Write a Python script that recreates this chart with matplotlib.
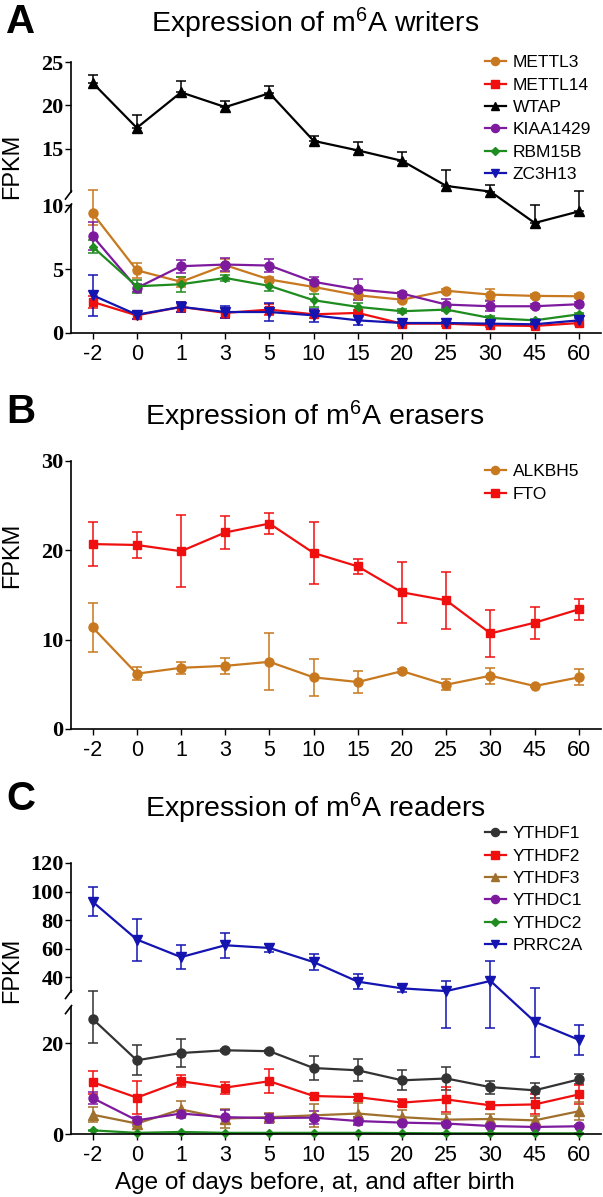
import matplotlib
matplotlib.use('Agg')
import matplotlib.pyplot as plt
import numpy as np

plt.rcParams['font.family'] = ['Liberation Sans', 'DejaVu Sans']
plt.rcParams['mathtext.fontset'] = 'custom'
plt.rcParams['mathtext.rm'] = 'Liberation Sans'
plt.rcParams['mathtext.it'] = 'Liberation Sans:italic'
plt.rcParams['mathtext.bf'] = 'Liberation Sans:bold'

days = ['-2', '0', '1', '3', '5', '10', '15', '20', '25', '30', '45', '60']

# panel A: writers (mean, sd)
mettl3 = [9.35, 4.9, 4.0, 5.3, 4.18, 3.6, 2.95, 2.6, 3.3, 3.0, 2.9, 2.87]
mettl3_sd = [0.9, 0.6, 0.4, 0.5, 0.2, 0.2, 0.3, 0.15, 0.15, 0.4, 0.15, 0.15]
mettl14 = [2.43, 1.38, 2.04, 1.57, 1.83, 1.46, 1.57, 0.73, 0.73, 0.6, 0.55, 0.78]
mettl14_sd = [0.5, 0.3, 0.4, 0.4, 0.4, 0.3, 0.2, 0.15, 0.15, 0.15, 0.1, 0.15]
wtap = [22.6, 17.4, 21.5, 19.8, 21.4, 15.9, 14.8, 13.6, 10.7, 10.05, 8.6, 9.5]
wtap_sd = [0.85, 1.5, 1.35, 0.65, 0.85, 0.55, 1.0, 1.0, 1.8, 0.75, 1.4, 0.65]
kiaa1429 = [7.57, 3.52, 5.22, 5.35, 5.27, 4.0, 3.4, 3.08, 2.22, 2.09, 2.09, 2.25]
kiaa1429_sd = [1.1, 0.3, 0.5, 0.5, 0.5, 0.4, 0.8, 0.15, 0.4, 0.4, 0.15, 0.15]
rbm15b = [6.74, 3.65, 3.81, 4.3, 3.68, 2.56, 2.04, 1.7, 1.83, 1.17, 0.99, 1.46]
rbm15b_sd = [0.5, 0.5, 0.6, 0.2, 0.4, 0.5, 0.3, 0.15, 0.15, 0.15, 0.1, 0.1]
zc3h13 = [2.95, 1.43, 2.04, 1.64, 1.64, 1.38, 0.99, 0.78, 0.78, 0.73, 0.68, 0.99]
zc3h13_sd = [1.6, 0.3, 0.4, 0.5, 0.7, 0.5, 0.4, 0.1, 0.1, 0.1, 0.1, 0.15]

# panel B: erasers
alkbh5 = [11.37, 6.19, 6.85, 7.07, 7.52, 5.78, 5.26, 6.48, 4.96, 5.96, 4.81, 5.78]
alkbh5_sd = [2.7, 0.7, 0.7, 0.9, 3.2, 2.1, 1.2, 0.2, 0.6, 0.9, 0.15, 0.9]
fto = [20.7, 20.6, 19.9, 22.0, 23.0, 19.7, 18.2, 15.3, 14.4, 10.7, 11.9, 13.4]
fto_sd = [2.5, 1.5, 4.0, 1.8, 1.2, 3.5, 0.8, 3.4, 3.2, 2.6, 1.8, 1.2]

# panel C: readers
ythdf1 = [25.3, 16.2, 17.8, 18.4, 18.2, 14.5, 14.0, 11.8, 12.2, 10.3, 9.6, 12.0]
ythdf1_sd = [5.2, 3.3, 3.1, 0.3, 0.3, 2.6, 2.45, 2.2, 2.6, 1.4, 1.6, 1.1]
ythdf2 = [11.4, 8.0, 11.6, 10.2, 11.6, 8.35, 8.1, 6.9, 7.6, 6.3, 6.5, 8.7]
ythdf2_sd = [2.5, 3.7, 1.35, 1.3, 2.6, 0.5, 0.6, 0.8, 2.7, 0.8, 2.2, 2.0]
ythdf3 = [4.25, 2.3, 5.4, 3.4, 3.7, 4.1, 4.5, 3.7, 3.15, 3.3, 3.0, 5.0]
ythdf3_sd = [1.6, 0.5, 1.8, 2.0, 1.0, 2.5, 2.4, 1.5, 1.2, 1.2, 1.0, 2.0]
ythdc1 = [7.9, 3.0, 4.5, 3.7, 3.5, 3.6, 2.85, 2.5, 2.3, 1.75, 1.55, 1.7]
ythdc1_sd = [1.4, 0.8, 0.7, 1.5, 1.0, 1.5, 0.9, 0.3, 0.3, 0.3, 0.2, 0.2]
ythdc2 = [0.8, 0.25, 0.45, 0.25, 0.25, 0.25, 0.25, 0.2, 0.15, 0.15, 0.15, 0.15]
ythdc2_sd = [0.1, 0.05, 0.05, 0.05, 0.05, 0.05, 0.05, 0.05, 0.05, 0.05, 0.05, 0.05]
prrc2a = [92.9, 66.4, 54.1, 62.4, 60.5, 50.6, 36.9, 32.2, 30.3, 37.4, 24.7, 20.7]
prrc2a_sd = [10.3, 14.7, 8.2, 8.7, 2.7, 5.4, 5.3, 2.7, 7.0, 14.0, 7.7, 3.3]

ORANGE = '#C8781E'
RED = '#F00F0F'
PURPLE = '#7D1A9E'
GREEN = '#1E8C1E'
BLUE = '#1414B0'

W, H = 603, 1197
x = np.arange(len(days))


def broken(t, a, y0, v0, b):
    # piecewise y scale with a gap: values <= t on the lower segment
    def fwd(v):
        v = np.asarray(v, float)
        return np.where(v <= t, v * a, y0 + (v - v0) * b)

    def inv(y):
        y = np.asarray(y, float)
        yt = y0 + (t - v0) * b
        return np.where(y <= t * a, y / a, np.where(y < yt, t, v0 + (y - y0) / b))
    return fwd, inv


def add_axes(top, bottom):
    return fig.add_axes([70.5 / W, 1 - bottom / H, 530.5 / W, (bottom - top) / H])


def series(ax, y, sd, color, marker, label, ms=6.5, upper=False):
    err = [np.zeros(len(sd)), sd] if upper else sd
    c = ax.errorbar(x, y, yerr=err, color=color, marker=marker, ms=ms, lw=1.6,
                    elinewidth=1.1, capsize=3.3, capthick=1.1, clip_on=False)
    c[0].set_label(label)
    return c[0]


def finish(ax, yticks, ylim, segs=None, breaks=None, fwd=None):
    ax.set_xlim(-0.5, 11.5)
    ax.set_ylim(*ylim)
    ax.set_xticks(x)
    ax.set_xticklabels(days, fontsize=15.5)
    ax.set_yticks(yticks)
    ax.set_yticklabels([str(v) for v in yticks], fontfamily='Liberation Serif',
                       fontweight='bold', fontsize=16)
    ax.yaxis.set_minor_locator(matplotlib.ticker.NullLocator())
    ax.tick_params(axis='y', length=4, width=1, pad=1)
    ax.tick_params(axis='x', length=4, width=1, pad=4)
    for s in ['top', 'right']:
        ax.spines[s].set_visible(False)
    ax.spines['bottom'].set_linewidth(1.2)
    if segs is None:
        ax.spines['left'].set_linewidth(1.2)
        return
    ax.spines['left'].set_visible(False)
    tr = ax.get_yaxis_transform()
    for lo, hi in segs:
        ax.plot([0, 0], [lo, hi], color='black', lw=1.2, transform=tr, clip_on=False)
    hpx = float(fwd(ylim[1]))
    for b in breaks:
        f = float(fwd(b)) / hpx
        ax.plot([1 / 530.5, -5 / 530.5], [f + 1 / hpx, f - 7 / hpx], color='black',
                lw=1.2, transform=ax.transAxes, clip_on=False)


def legend(ax, handles, left, top):
    ax.legend(handles=handles, loc='upper left', bbox_to_anchor=(left / W, 1 - top / H),
              bbox_transform=fig.transFigure, frameon=False, fontsize=12.5,
              handlelength=1.2, handletextpad=0.4, labelspacing=0.42,
              borderpad=0, borderaxespad=0, markerscale=0.9)


fig = plt.figure(figsize=(W / 100, H / 100), dpi=100)

# ---- A
fA, iA = broken(10, 12.8, 141, 10, 8.67)
axA = add_axes(62, 333)
axA.set_yscale('function', functions=(fA, iA))
hA = [series(axA, mettl3, mettl3_sd, ORANGE, 'o', 'METTL3'),
      series(axA, mettl14, mettl14_sd, RED, 's', 'METTL14', ms=6),
      series(axA, wtap, wtap_sd, 'black', '^', 'WTAP', upper=True),
      series(axA, kiaa1429, kiaa1429_sd, PURPLE, 'o', 'KIAA1429'),
      series(axA, rbm15b, rbm15b_sd, GREEN, 'D', 'RBM15B', ms=4.5),
      series(axA, zc3h13, zc3h13_sd, BLUE, 'v', 'ZC3H13')]
finish(axA, [0, 5, 10, 15, 20, 25], (0, 25), segs=[(0, 10), (10.0001, 25)],
       breaks=[10, 10.0001], fwd=fA)
legend(axA, hA, 485, 55)

# ---- B
axB = add_axes(461, 729)
hB = [series(axB, alkbh5, alkbh5_sd, ORANGE, 'o', 'ALKBH5'),
      series(axB, fto, fto_sd, RED, 's', 'FTO', ms=6)]
finish(axB, [0, 10, 20, 30], (0, 30))
legend(axB, hB, 485, 464)

# ---- C
fC, iC = broken(29.3, 4.55, 142.5, 30, 1.428)
axC = add_axes(863, 1134)
axC.set_yscale('function', functions=(fC, iC))
hC = [series(axC, ythdf1, ythdf1_sd, '#333333', 'o', 'YTHDF1'),
      series(axC, ythdf2, ythdf2_sd, RED, 's', 'YTHDF2', ms=6),
      series(axC, ythdf3, ythdf3_sd, '#A0702D', '^', 'YTHDF3'),
      series(axC, ythdc1, ythdc1_sd, PURPLE, 'o', 'YTHDC1'),
      series(axC, ythdc2, ythdc2_sd, GREEN, 'D', 'YTHDC2', ms=4.5),
      series(axC, prrc2a, prrc2a_sd, BLUE, 'v', 'PRRC2A')]
finish(axC, [0, 20, 40, 60, 80, 100, 120], (0, 120), segs=[(0, 28), (30, 120)],
       breaks=[28, 30], fwd=fC)
legend(axC, hC, 485, 826)

fig.text(315 / W, 1 - 1189 / H, 'Age of days before, at, and after birth',
         fontsize=17.5, ha='center', va='baseline')

# titles, letters, y labels
for name, ty, letter, ly, yl in [('writers', 32, 'A', 33, 166),
                                 ('erasers', 425, 'B', 423, 555),
                                 ('readers', 817, 'C', 810, 970)]:
    fig.text(315 / W, 1 - ty / H, 'Expression of m$^6$A ' + name, fontsize=20.5,
             ha='center', va='baseline')
    fig.text(6 / W, 1 - ly / H, letter, fontsize=29, fontweight='bold',
             ha='left', va='baseline')
    fig.text(12.5 / W, 1 - yl / H, 'FPKM', fontsize=17, rotation=90,
             ha='center', va='center')

fig.savefig('out.png', dpi=100)
